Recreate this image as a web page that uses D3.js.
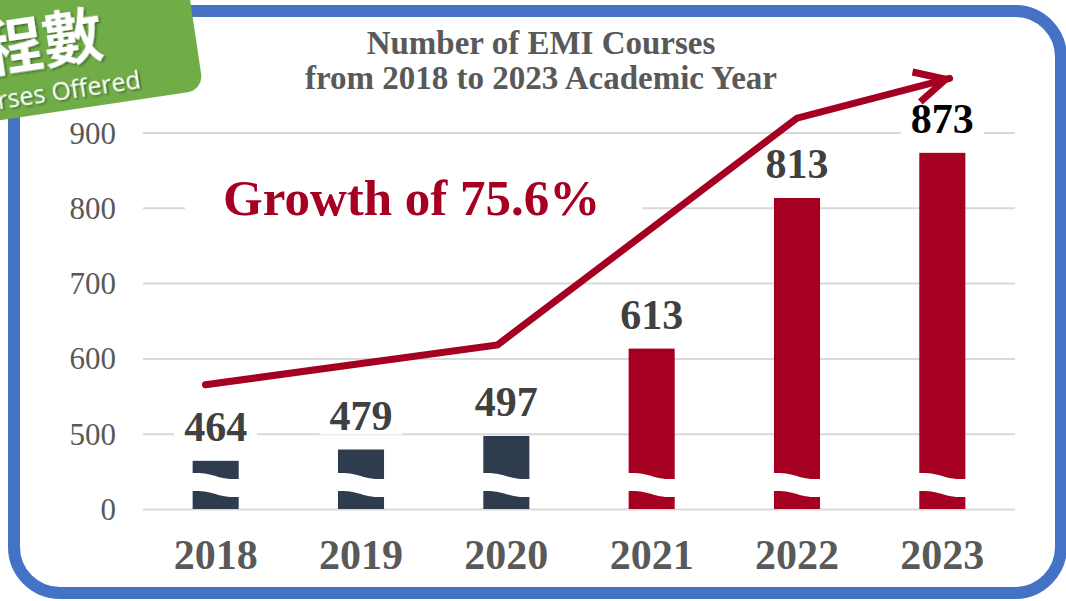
<!DOCTYPE html>
<html>
<head>
<meta charset="utf-8">
<script src="https://cdn.jsdelivr.net/npm/d3@7"></script>
<style>
  body { margin: 0; background: #fff; }
  svg { display: block; }
</style>
</head>
<body>
<div id="chart"></div>
<script>
// data
var years = ['2018', '2019', '2020', '2021', '2022', '2023'];
var courses = [464, 479, 497, 613, 813, 873];
var barColors = ['#2f3c4e', '#2f3c4e', '#2f3c4e', '#a50021', '#a50021', '#a50021'];
var labelColors = ['#404040', '#404040', '#404040', '#404040', '#404040', '#000000'];
// broken axis: 400 is drawn at the baseline and labelled 0
var yTicks = [400, 500, 600, 700, 800, 900];
var yTickLabels = ['0', '500', '600', '700', '800', '900'];
var titleLines = ['Number of EMI Courses', 'from 2018 to 2023 Academic Year'];
var growthText = 'Growth of 75.6%';
// trend arrow, in bar-index and value units
var trendIndex = [-0.07, 1.94, 4.0, 5.05];
var trendValue = [565, 618, 919, 972];

var width = 1066;
var height = 601;
var margin = { top: 132.5, right: 51, bottom: 92, left: 143 };
var serif = '"Liberation Serif", "DejaVu Serif", serif';

var svg = d3.select('#chart').append('svg')
  .attr('width', width)
  .attr('height', height);

var x = d3.scaleBand().domain(years)
  .range([margin.left, width - margin.right])
  .paddingInner(0.683).paddingOuter(0.3415);
var y = d3.scaleLinear().domain([400, 900])
  .range([height - margin.bottom, margin.top]);
var xi = d3.scaleLinear().domain([0, years.length - 1])
  .range([x(years[0]) + x.bandwidth() / 2, x(years[years.length - 1]) + x.bandwidth() / 2]);

// outer frame
svg.append('rect')
  .attr('x', 14).attr('y', 11)
  .attr('width', 1047).attr('height', 582)
  .attr('rx', 46).attr('ry', 46)
  .attr('fill', 'none')
  .attr('stroke', '#4472c4')
  .attr('stroke-width', 12);

// title
svg.append('g').selectAll('text').data(titleLines).join('text')
  .attr('x', 541)
  .attr('y', function (d, i) { return 54 + i * 35; })
  .attr('text-anchor', 'middle')
  .attr('font-family', serif)
  .attr('font-weight', 'bold')
  .attr('font-size', '33px')
  .attr('fill', '#595959')
  .text(function (d) { return d; });

// y axis + gridlines
var yAxis = svg.append('g')
  .attr('transform', 'translate(' + margin.left + ',0)')
  .call(d3.axisLeft(y).tickValues(yTicks)
    .tickFormat(function (d, i) { return yTickLabels[i]; })
    .tickSize(-(width - margin.right - margin.left))
    .tickPadding(27));
yAxis.select('.domain').remove();
yAxis.selectAll('line').attr('stroke', '#d9d9d9').attr('stroke-width', 2);
yAxis.selectAll('text')
  .attr('font-family', serif)
  .attr('font-size', '31px')
  .attr('fill', '#595959')
  .attr('dy', '0.34em');

// x axis labels
var xAxis = svg.append('g')
  .attr('transform', 'translate(0,' + (height - margin.bottom) + ')')
  .call(d3.axisBottom(x).tickSize(0).tickPadding(60));
xAxis.select('.domain').remove();
xAxis.selectAll('text')
  .attr('font-family', serif)
  .attr('font-weight', 'bold')
  .attr('font-size', '42px')
  .attr('fill', '#595959')
  .attr('dy', 0);

// bars
var bars = svg.append('g').selectAll('g').data(years).join('g');
bars.append('rect')
  .attr('x', function (d) { return x(d); })
  .attr('y', function (d, i) { return y(courses[i]); })
  .attr('width', x.bandwidth())
  .attr('height', function (d, i) { return y(400) - y(courses[i]); })
  .attr('fill', function (d, i) { return barColors[i]; });

// wavy break on each bar
bars.append('path')
  .attr('fill', '#fff')
  .attr('d', function (d) {
    var x0 = x(d) - 1, x1 = x(d) + x.bandwidth() + 1, xm = (x0 + x1) / 2;
    var t0 = y(400) - 36, t1 = y(400) - 30, g = 18;
    return 'M' + x0 + ',' + t0 +
      'C' + xm + ',' + (t0 - 1) + ' ' + xm + ',' + (t1 + 1) + ' ' + x1 + ',' + t1 +
      'L' + x1 + ',' + (t1 + g) +
      'C' + xm + ',' + (t1 + g + 1) + ' ' + xm + ',' + (t0 + g - 1) + ' ' + x0 + ',' + (t0 + g) + 'Z';
  });

// value labels with white backing that cuts the gridlines
var labels = svg.append('g').selectAll('g').data(years).join('g');
labels.append('rect').attr('fill', '#fff');
labels.append('text')
  .attr('x', function (d) { return x(d) + x.bandwidth() / 2; })
  .attr('y', function (d, i) { return y(courses[i]) - 20; })
  .attr('text-anchor', 'middle')
  .attr('font-family', serif)
  .attr('font-weight', 'bold')
  .attr('font-size', '42px')
  .attr('fill', function (d, i) { return labelColors[i]; })
  .text(function (d, i) { return courses[i]; });
labels.each(function () {
  var g = d3.select(this);
  var b = g.select('text').node().getBBox();
  g.select('rect')
    .attr('x', b.x - 10).attr('y', b.y + 4)
    .attr('width', b.width + 20).attr('height', b.height - 8);
});

// growth annotation
var growth = svg.append('g');
growth.append('rect').attr('fill', '#fff');
growth.append('text')
  .attr('x', 223).attr('y', 215)
  .attr('font-family', serif)
  .attr('font-weight', 'bold')
  .attr('font-size', '51px')
  .attr('fill', '#a50021')
  .text(growthText);
var gb = growth.select('text').node().getBBox();
growth.select('rect')
  .attr('x', gb.x - 38).attr('y', gb.y)
  .attr('width', gb.width + 80).attr('height', gb.height);

// trend arrow
var pts = trendIndex.map(function (d, i) { return [xi(d), y(trendValue[i])]; });
svg.append('path')
  .attr('d', d3.line()(pts))
  .attr('fill', 'none')
  .attr('stroke', '#a50021')
  .attr('stroke-width', 7)
  .attr('stroke-linecap', 'round')
  .attr('stroke-linejoin', 'miter');
var tip = pts[pts.length - 1], prev = pts[pts.length - 2];
var ang = Math.atan2(tip[1] - prev[1], tip[0] - prev[0]);
var arm = 34, spread = 27 * Math.PI / 180;
var headTip = [tip[0] - 4 * Math.cos(ang), tip[1] - 4 * Math.sin(ang)];
var head = [
  [headTip[0] - arm * Math.cos(ang - spread), headTip[1] - arm * Math.sin(ang - spread)],
  headTip,
  [headTip[0] - arm * Math.cos(ang + spread), headTip[1] - arm * Math.sin(ang + spread)]
];
svg.append('path')
  .attr('d', d3.line()(head))
  .attr('fill', 'none')
  .attr('stroke', '#a50021')
  .attr('stroke-width', 7)
  .attr('stroke-linejoin', 'miter')
  .attr('stroke-miterlimit', 10);

// green badge in the corner
var defs = svg.append('defs');
defs.append('filter').attr('id', 'shadow')
  .append('feDropShadow')
  .attr('dx', 1.5).attr('dy', 1.5).attr('stdDeviation', 1)
  .attr('flood-color', '#000').attr('flood-opacity', 0.45);
var badge = svg.append('g').attr('transform', 'rotate(-8.5)');
badge.append('rect')
  .attr('x', -220).attr('y', -100)
  .attr('width', 408).attr('height', 219)
  .attr('rx', 16)
  .attr('fill', '#70ad47');
badge.append('text')
  .attr('x', 96).attr('y', 70)
  .attr('text-anchor', 'end')
  .attr('font-family', '"Noto Sans CJK TC", "Noto Sans CJK SC", sans-serif')
  .attr('font-weight', 'bold')
  .attr('font-size', '60px')
  .attr('fill', '#fff')
  .attr('filter', 'url(#shadow)')
  .text('課程數');
badge.append('text')
  .attr('x', 127).attr('y', 108)
  .attr('text-anchor', 'end')
  .attr('font-family', '"Open Sans", "Noto Sans", sans-serif')
  .attr('font-size', '25px')
  .attr('fill', '#fff')
  .attr('filter', 'url(#shadow)')
  .text('Courses Offered');
</script>
</body>
</html>
